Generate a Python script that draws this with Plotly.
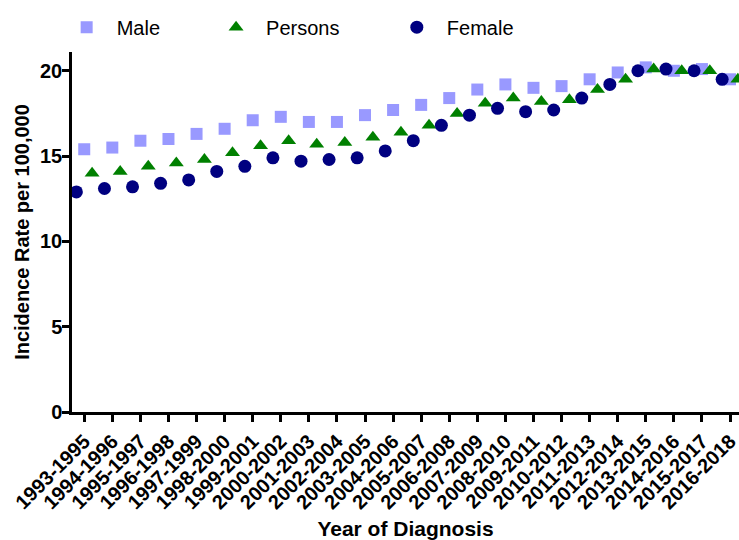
import plotly.graph_objects as go

categories = ["1993-1995", "1994-1996", "1995-1997", "1996-1998", "1997-1999", "1998-2000",
              "1999-2001", "2000-2002", "2001-2003", "2002-2004", "2003-2005", "2004-2006",
              "2005-2007", "2006-2008", "2007-2009", "2008-2010", "2009-2011", "2010-2012",
              "2011-2013", "2012-2014", "2013-2015", "2014-2016", "2015-2017", "2016-2018"]

male = [15.4, 15.5, 15.9, 16.0, 16.3, 16.6, 17.1, 17.3, 17.0, 17.0, 17.4, 17.7,
        18.0, 18.4, 18.9, 19.2, 19.0, 19.1, 19.5, 19.9, 20.2, 20.0, 20.1, 19.5]
persons = [14.0, 14.1, 14.4, 14.6, 14.8, 15.2, 15.6, 15.9, 15.7, 15.8, 16.1, 16.4,
           16.8, 17.5, 18.1, 18.4, 18.2, 18.3, 18.9, 19.5, 20.1, 20.0, 20.0, 19.5]
female = [12.9, 13.1, 13.2, 13.4, 13.6, 14.1, 14.4, 14.9, 14.7, 14.8, 14.9, 15.3,
          15.9, 16.8, 17.4, 17.8, 17.6, 17.7, 18.4, 19.2, 20.0, 20.1, 20.0, 19.5]

y_ticks = [0, 5, 10, 15, 20]

FONT = "Liberation Sans, Arial, sans-serif"
idx = list(range(len(categories)))
offset = 0.28

fig = go.Figure()
fig.add_trace(go.Scatter(
    x=idx, y=male, mode="markers", name="Male", legend="legend",
    marker=dict(symbol="square", size=12, color="#9999ff"),
))
fig.add_trace(go.Scatter(
    x=[i + offset for i in idx], y=persons, mode="markers", name="Persons", legend="legend2",
    marker=dict(symbol="triangle-up", size=13, color="#008000"),
))
fig.add_trace(go.Scatter(
    x=[i - offset for i in idx], y=female, mode="markers", name="Female", legend="legend3",
    marker=dict(symbol="circle", size=13, color="#000080"),
))

leg_common = dict(orientation="h", yanchor="middle", xanchor="left", y=1.069,
                  font=dict(family=FONT, size=20, color="#000"),
                  bgcolor="rgba(0,0,0,0)", itemwidth=50, itemsizing="trace")

fig.update_layout(
    width=739, height=540,
    margin=dict(l=72, r=0, t=52, b=128),
    plot_bgcolor="white", paper_bgcolor="white",
    showlegend=True,
    legend=dict(x=-0.023, **leg_common),
    legend2=dict(x=0.201, **leg_common),
    legend3=dict(x=0.472, **leg_common),
    xaxis=dict(
        range=[-0.436, 23.32], automargin=False,
        tickmode="array", tickvals=idx, ticktext=categories,
        tickangle=-45, ticklabeloverflow="allow",
        tickfont=dict(family=FONT, size=20, color="#000", weight="bold"),
        showline=True, linecolor="#000", linewidth=2.5,
        ticks="outside", ticklen=7, tickwidth=2.5, tickcolor="#000",
        showgrid=False, zeroline=False,
        title=dict(text="Year of Diagnosis", font=dict(family=FONT, size=21, color="#000", weight="bold"),
                   standoff=16),
    ),
    yaxis=dict(
        range=[0, 21.1], automargin=False,
        tickmode="array", tickvals=y_ticks,
        tickfont=dict(family=FONT, size=20, color="#000", weight="bold"),
        ticklabelstandoff=-4,
        showline=True, linecolor="#000", linewidth=2.5,
        ticks="outside", ticklen=7, tickwidth=2.5, tickcolor="#000",
        showgrid=False, zeroline=False,
        title=dict(text="Incidence Rate per 100,000", font=dict(family=FONT, size=20, color="#000", weight="bold"),
                   standoff=6),
    ),
)

fig.write_html("out.html")
